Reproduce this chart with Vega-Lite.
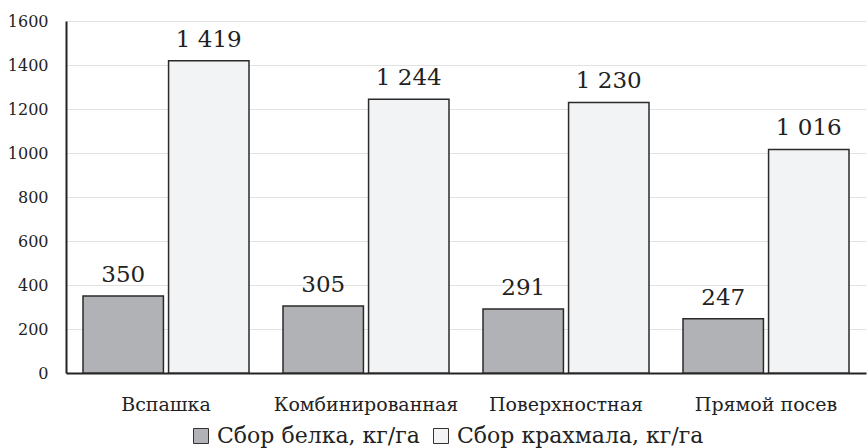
{
  "$schema": "https://vega.github.io/schema/vega-lite/v6.json",
  "width": 800,
  "height": 352,
  "autosize": {"type": "none"},
  "padding": {"left": 66, "top": 21, "right": 1, "bottom": 75},
  "config": {
    "font": "DejaVu Serif",
    "view": {"stroke": null},
    "locale": {"number": {"decimal": ",", "thousands": " ", "grouping": [3], "currency": ["", ""]}}
  },
  "data": {
    "values": [
      {"method": "Вспашка", "series": "Сбор белка, кг/га", "value": 350},
      {"method": "Вспашка", "series": "Сбор крахмала, кг/га", "value": 1419},
      {"method": "Комбинированная", "series": "Сбор белка, кг/га", "value": 305},
      {"method": "Комбинированная", "series": "Сбор крахмала, кг/га", "value": 1244},
      {"method": "Поверхностная", "series": "Сбор белка, кг/га", "value": 291},
      {"method": "Поверхностная", "series": "Сбор крахмала, кг/га", "value": 1230},
      {"method": "Прямой посев", "series": "Сбор белка, кг/га", "value": 247},
      {"method": "Прямой посев", "series": "Сбор крахмала, кг/га", "value": 1016}
    ]
  },
  "encoding": {
    "x": {
      "field": "method", "type": "nominal", "sort": null,
      "scale": {"paddingInner": 0.17, "paddingOuter": 0.085},
      "axis": {"title": null, "labelAngle": 0, "labelFont": "DejaVu Serif", "labelFontSize": 19, "labelLimit": 300, "labelColor": "#222", "ticks": false, "labelPadding": 22, "domainColor": "#222", "domainWidth": 2, "grid": false}
    },
    "xOffset": {"field": "series", "type": "nominal", "scale": {"paddingInner": 0.06}},
    "y": {
      "field": "value", "type": "quantitative",
      "scale": {"domain": [0, 1600], "nice": false},
      "axis": {"title": null, "values": [0, 200, 400, 600, 800, 1000, 1200, 1400, 1600], "format": "d", "labelFont": "DejaVu Serif", "labelFontSize": 16, "labelColor": "#222", "ticks": false, "labelPadding": 18, "domainColor": "#222", "domainWidth": 2, "gridColor": "#e2e2e2", "gridWidth": 1}
    }
  },
  "layer": [
    {
      "mark": {"type": "bar", "stroke": "#2a2a2a", "strokeWidth": 1.5},
      "encoding": {
        "fill": {
          "field": "series", "type": "nominal",
          "scale": {"range": ["#b1b2b6", "#f2f3f5"]},
          "legend": {"title": null, "orient": "none", "legendX": 124, "legendY": 404, "direction": "horizontal", "symbolType": "square", "symbolSize": 225, "symbolStrokeColor": "#333", "symbolStrokeWidth": 1, "labelFont": "DejaVu Serif", "labelFontSize": 22, "labelLimit": 400, "labelColor": "#222", "columnPadding": 10, "labelOffset": 5}
        }
      }
    },
    {
      "mark": {"type": "text", "baseline": "alphabetic", "dy": -14, "fontSize": 23, "color": "#222", "font": "DejaVu Serif"},
      "encoding": {
        "text": {"field": "value", "type": "quantitative", "format": ",d"}
      }
    }
  ]
}
